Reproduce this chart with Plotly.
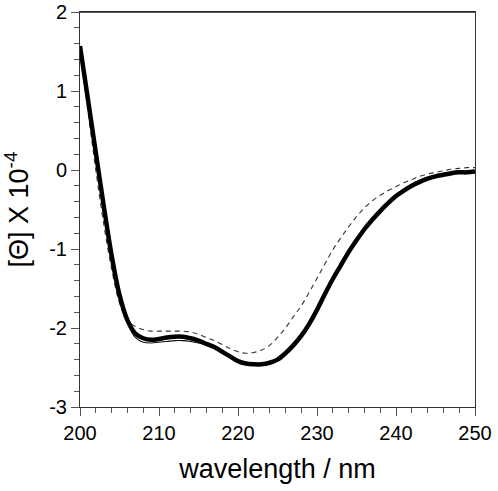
import plotly.graph_objects as go

wavelength = list(range(200, 251))

thick = [1.57, 0.90, 0.22, -0.45, -1.08, -1.58, -1.90, -2.07, -2.13, -2.15,
         -2.14, -2.12, -2.11, -2.11, -2.13, -2.16, -2.20, -2.24, -2.30, -2.36,
         -2.42, -2.45, -2.46, -2.46, -2.44, -2.40, -2.32, -2.22, -2.10, -1.95,
         -1.77, -1.57, -1.38, -1.21, -1.04, -0.89, -0.75, -0.63, -0.52, -0.42,
         -0.33, -0.26, -0.20, -0.15, -0.11, -0.08, -0.06, -0.04, -0.03, -0.03,
         -0.02]

thin = [1.57, 0.90, 0.22, -0.45, -1.08, -1.60, -1.93, -2.12, -2.18, -2.19,
        -2.18, -2.17, -2.16, -2.16, -2.17, -2.19, -2.22, -2.25, -2.30, -2.36,
        -2.42, -2.45, -2.46, -2.46, -2.44, -2.40, -2.32, -2.22, -2.10, -1.95,
        -1.77, -1.57, -1.38, -1.21, -1.04, -0.89, -0.75, -0.63, -0.52, -0.42,
        -0.33, -0.26, -0.20, -0.15, -0.11, -0.08, -0.06, -0.04, -0.03, -0.03,
        -0.02]

dashed = [1.50, 0.75, 0.00, -0.68, -1.25, -1.68, -1.90, -1.98, -2.02, -2.04,
          -2.04, -2.04, -2.04, -2.04, -2.05, -2.08, -2.12, -2.16, -2.21, -2.26,
          -2.30, -2.32, -2.31, -2.28, -2.22, -2.12, -2.00, -1.86, -1.72, -1.55,
          -1.37, -1.19, -1.01, -0.86, -0.72, -0.59, -0.48, -0.39, -0.32, -0.26,
          -0.21, -0.16, -0.12, -0.08, -0.05, -0.03, -0.01, 0.01, 0.02, 0.03,
          0.03]

x_ticks = [200, 210, 220, 230, 240, 250]
y_ticks = [-3, -2, -1, 0, 1, 2]

fig = go.Figure()
fig.add_trace(go.Scatter(x=wavelength, y=dashed, mode="lines", line_shape="spline",
                         line=dict(color="#333333", width=1.1, dash="5px,4px")))
fig.add_trace(go.Scatter(x=wavelength, y=thin, mode="lines", line_shape="spline",
                         line=dict(color="#111111", width=1.1)))
fig.add_trace(go.Scatter(x=wavelength, y=thick, mode="lines", line_shape="spline",
                         line=dict(color="#000000", width=4.5)))

font_family = "Liberation Sans, Arial, sans-serif"
fig.update_layout(
    width=498, height=491,
    margin=dict(l=80, r=23, t=12, b=84),
    plot_bgcolor="white", paper_bgcolor="white",
    showlegend=False,
    font=dict(family=font_family, color="black"),
    shapes=[dict(type="line", xref="paper", yref="paper", x0=0, x1=1, y0=1, y1=1,
                 line=dict(color="#222222", width=1.5), layer="above")],
)
fig.update_xaxes(
    range=[200, 250], tickvals=x_ticks, ticktext=[str(v) for v in x_ticks],
    showgrid=False, zeroline=False, automargin=False, ticklabeloverflow="allow",
    showline=True, linecolor="#333333", linewidth=1, mirror=True,
    ticks="outside", ticklen=8, tickwidth=1, tickcolor="#555555",
    minor=dict(dtick=2, ticks="outside", ticklen=5, tickcolor="#555555", showgrid=False),
    tickfont=dict(size=20, family=font_family),
    title=dict(text="wavelength / nm", font=dict(size=27, family=font_family), standoff=16),
)
fig.update_yaxes(
    range=[-3, 2], tickvals=y_ticks, ticktext=[str(v) for v in y_ticks],
    showgrid=False, zeroline=False, automargin=False, ticklabeloverflow="allow",
    showline=True, linecolor="#333333", linewidth=1, mirror=True,
    ticks="outside", ticklen=8, tickwidth=1, tickcolor="#555555",
    minor=dict(dtick=0.2, ticks="outside", ticklen=5, tickcolor="#555555", showgrid=False),
    tickfont=dict(size=20, family=font_family),
    title=dict(text="[Θ] X 10<sup>-4</sup>", font=dict(size=27, family=font_family), standoff=16),
)

fig.write_html("out.html", config={"displayModeBar": False},
               post_script="document.body.style.margin='0';")
